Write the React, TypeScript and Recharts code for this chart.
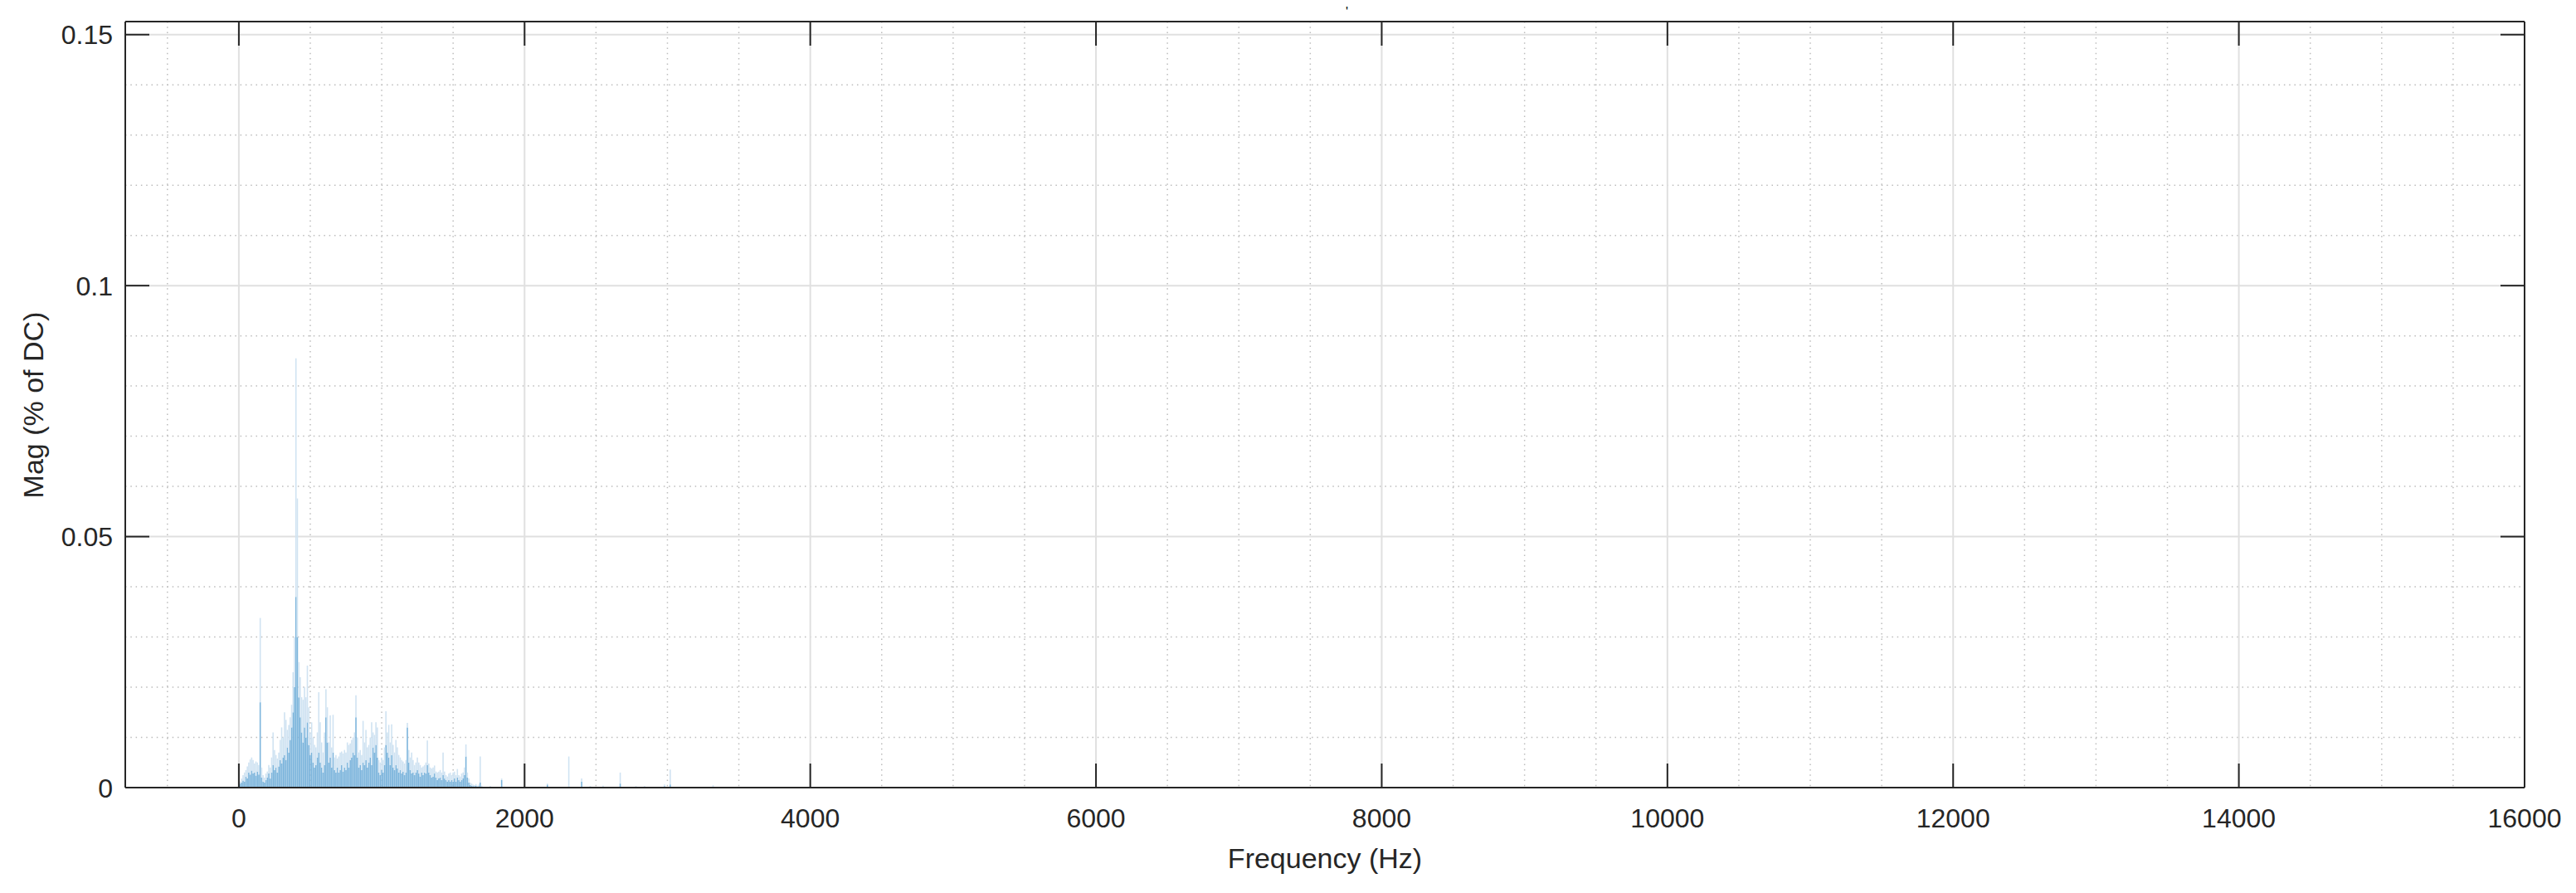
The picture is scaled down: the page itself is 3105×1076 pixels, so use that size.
import React from "react";
import { ComposedChart, Bar, XAxis, YAxis, CartesianGrid } from "recharts";

// spectrum bins, 10 Hz apart from 0 Hz to 1700 Hz
const binStepHz = 10;
// typical (dense) magnitude in each bin
const bodyMag = [
  0.0005, 0.0008, 0.001, 0.0014, 0.0012, 0.0022, 0.0018, 0.003, 0.0026, 0.0034,
  0.0028, 0.003, 0.0024, 0.0032, 0.0026, 0.017, 0.002, 0.0012, 0.001, 0.0015,
  0.002, 0.0028, 0.0018, 0.003, 0.0045, 0.0035, 0.004, 0.003, 0.0042, 0.0055,
  0.0048, 0.006, 0.0065, 0.0055, 0.008, 0.007, 0.0095, 0.012, 0.015, 0.02,
  0.038, 0.03, 0.018, 0.014, 0.011, 0.009, 0.012, 0.01, 0.013, 0.0085,
  0.0065, 0.007, 0.005, 0.004, 0.0045, 0.006, 0.007, 0.005, 0.004, 0.003,
  0.0045, 0.014, 0.009, 0.005, 0.006, 0.004, 0.007, 0.0035, 0.003, 0.004,
  0.003, 0.0035, 0.0045, 0.0032, 0.004, 0.0035, 0.005, 0.004, 0.0055, 0.006,
  0.007, 0.0065, 0.014, 0.006, 0.004, 0.0045, 0.0035, 0.005, 0.0045, 0.0055,
  0.004, 0.005, 0.006, 0.0045, 0.008, 0.007, 0.0085, 0.006, 0.003, 0.0025,
  0.0035, 0.003, 0.0045, 0.0085, 0.007, 0.006, 0.0045, 0.0065, 0.004, 0.0035,
  0.0045, 0.0038, 0.003, 0.0035, 0.0028, 0.0032, 0.0025, 0.003, 0.012, 0.005,
  0.0035, 0.0028, 0.003, 0.0025, 0.003, 0.0035, 0.0028, 0.0022, 0.003, 0.0025,
  0.003, 0.0028, 0.0045, 0.003, 0.0025, 0.002, 0.0022, 0.0028, 0.002, 0.0015,
  0.0018, 0.002, 0.0015, 0.0025, 0.0018, 0.0015, 0.0012, 0.0015, 0.0012, 0.0015,
  0.0012, 0.0018, 0.0012, 0.002, 0.0015, 0.0012, 0.0015, 0.0018, 0.0025, 0.0062,
  0.002, 0.001, 0.0005, 0.0004, 0.0003, 0.0003, 0.0004, 0.0002, 0.0003, 0.001, 0.0002,
];
// highest spike seen in each bin
const peakMag = [
  0.0008, 0.0012, 0.0018, 0.0025, 0.003, 0.0035, 0.0042, 0.005, 0.0056, 0.006,
  0.0055, 0.0048, 0.0052, 0.005, 0.0045, 0.0338, 0.004, 0.0025, 0.002, 0.0028,
  0.0032, 0.0045, 0.004, 0.006, 0.011, 0.0075, 0.0065, 0.0058, 0.007, 0.0095,
  0.012, 0.01, 0.015, 0.0135, 0.0115, 0.0125, 0.014, 0.0165, 0.023, 0.03,
  0.0855, 0.0576, 0.025, 0.022, 0.018, 0.0175, 0.02, 0.018, 0.0243, 0.016,
  0.011, 0.013, 0.01, 0.0085, 0.008, 0.011, 0.019, 0.013, 0.009, 0.007,
  0.011, 0.0196, 0.016, 0.009, 0.0144, 0.008, 0.0145, 0.006, 0.0065, 0.0058,
  0.0062, 0.007, 0.0072, 0.0068, 0.0075, 0.007, 0.009, 0.0085, 0.0088, 0.0095,
  0.01, 0.011, 0.0184, 0.01, 0.007, 0.0075, 0.0065, 0.0133, 0.009, 0.0115,
  0.008, 0.0085, 0.01, 0.013, 0.011, 0.0105, 0.013, 0.012, 0.0055, 0.005,
  0.006, 0.0055, 0.008, 0.0152, 0.011, 0.0125, 0.009, 0.0126, 0.0085, 0.007,
  0.0095, 0.008, 0.0065, 0.006, 0.0055, 0.0052, 0.0048, 0.0055, 0.0129, 0.0075,
  0.006, 0.007, 0.0055, 0.0045, 0.005, 0.006, 0.005, 0.0045, 0.004, 0.0042,
  0.0045, 0.005, 0.0094, 0.0048, 0.004, 0.0038, 0.004, 0.0044, 0.0032, 0.003,
  0.0032, 0.0035, 0.003, 0.007, 0.0032, 0.0025, 0.0022, 0.0028, 0.003, 0.0025,
  0.003, 0.0032, 0.0025, 0.0037, 0.0025, 0.0022, 0.0028, 0.003, 0.004, 0.0086,
  0.003, 0.0018, 0.001, 0.0008, 0.0006, 0.0005, 0.0007, 0.0004, 0.0006, 0.0062, 0.0004,
];
// isolated lines above 1700 Hz
const sparseHz = [1760, 1840, 2160, 2310, 2400, 2460, 2550, 2670, 2780, 2840, 2980, 3020, 3320];
const sparseBody = [0.0002, 0.0015, 0.0006, 0.0002, 0.0012, 0.0002, 0.0002, 0.0008, 0.0002, 0.0002, 0.0003, 0.0006, 0.0002];
const sparsePeak = [0.0003, 0.0018, 0.0008, 0.0062, 0.0018, 0.0003, 0.0004, 0.003, 0.0003, 0.0003, 0.0006, 0.0036, 0.0005];

const xTicks = [0, 2000, 4000, 6000, 8000, 10000, 12000, 14000, 16000];
const yTicks = [0, 0.05, 0.1, 0.15];
const xDomain: [number, number] = [-795, 16000];
const yDomain: [number, number] = [0, 0.1526];

// minor grid (MATLAB minor grid), x every 500 Hz, y every 0.01
const minorX: number[] = [];
for (let v = -500; v < 16000; v += 500) if (v % 2000 !== 0) minorX.push(v);
const minorY: number[] = [];
for (let k = 1; k <= 15; k++) if (k % 5 !== 0) minorY.push(k / 100);

const data = [
  ...bodyMag.map((b, i) => ({ hz: i * binStepHz, body: b, extra: peakMag[i] - b })),
  ...sparseHz.map((hz, i) => ({ hz, body: sparseBody[i], extra: sparsePeak[i] - sparseBody[i] })),
];

const INK = "#262626";
const TICK_LEN = 29;
const FONT = 32;

const BottomTick = (props: any) => {
  const { x, y, payload } = props;
  return (
    <g>
      <line x1={x} x2={x} y1={y} y2={y - TICK_LEN} stroke={INK} strokeWidth={2} />
      <text x={x} y={y + 48} textAnchor="middle" fontSize={FONT} fill={INK}>
        {payload.value}
      </text>
    </g>
  );
};

const TopTick = (props: any) => {
  const { x, y } = props;
  return <line x1={x} x2={x} y1={y} y2={y + TICK_LEN} stroke={INK} strokeWidth={2} />;
};

const LeftTick = (props: any) => {
  const { x, y, payload } = props;
  return (
    <g>
      <line x1={x} x2={x + TICK_LEN} y1={y} y2={y} stroke={INK} strokeWidth={2} />
      <text x={x - 15} y={y} dy="0.36em" textAnchor="end" fontSize={FONT} fill={INK}>
        {payload.value}
      </text>
    </g>
  );
};

const RightTick = (props: any) => {
  const { x, y } = props;
  return <line x1={x} x2={x - TICK_LEN} y1={y} y2={y} stroke={INK} strokeWidth={2} />;
};

const axisLine = { stroke: INK, strokeWidth: 2 };

export default function App() {
  return (
    <div
      style={{
        position: "absolute",
        left: 0,
        top: 0,
        width: 3105,
        height: 1076,
        background: "#fff",
        fontFamily: "'Liberation Sans', Arial, sans-serif",
      }}
    >
      <ComposedChart
        width={3105}
        height={1076}
        data={data}
        margin={{ top: 25, right: 61, bottom: 67, left: 51 }}
        barCategoryGap={0}
        barGap={0}
      >
        <CartesianGrid
          stroke="#bdbdbd"
          strokeWidth={1.5}
          strokeDasharray="1.5 4.8"
          verticalValues={minorX}
          horizontalValues={minorY}
        />
        <CartesianGrid stroke="#e0e0e0" strokeWidth={2} verticalValues={xTicks} horizontalValues={yTicks} />
        <XAxis
          dataKey="hz"
          type="number"
          domain={xDomain}
          allowDataOverflow
          ticks={xTicks}
          interval={0}
          height={60}
          tickSize={0}
          tickMargin={0}
          tickLine={false}
          axisLine={axisLine}
          tick={<BottomTick />}
        />
        <XAxis
          xAxisId="top"
          orientation="top"
          dataKey="hz"
          type="number"
          domain={xDomain}
          allowDataOverflow
          ticks={xTicks}
          interval={0}
          height={1}
          tickSize={0}
          tickMargin={0}
          tickLine={false}
          axisLine={axisLine}
          tick={<TopTick />}
        />
        <YAxis
          type="number"
          domain={yDomain}
          allowDataOverflow
          ticks={yTicks}
          interval={0}
          width={100}
          tickSize={0}
          tickMargin={0}
          tickLine={false}
          axisLine={axisLine}
          tick={<LeftTick />}
        />
        <YAxis
          yAxisId="right"
          orientation="right"
          type="number"
          domain={yDomain}
          allowDataOverflow
          ticks={yTicks}
          interval={0}
          width={1}
          tickSize={0}
          tickMargin={0}
          tickLine={false}
          axisLine={axisLine}
          tick={<RightTick />}
        />
        <Bar dataKey="body" stackId="s" fill="#7db5dc" barSize={1.6} isAnimationActive={false} />
        <Bar dataKey="extra" stackId="s" fill="#d0e3f2" barSize={1.6} isAnimationActive={false} />
      </ComposedChart>
      <svg
        width={3105}
        height={1076}
        style={{ position: "absolute", left: 0, top: 0, pointerEvents: "none" }}
      >
        <text x={1597} y={1034} dy="0.36em" textAnchor="middle" fontSize={34} fill={INK}>
          Frequency (Hz)
        </text>
        <text
          transform="translate(40,488) rotate(-90)"
          dy="0.36em"
          textAnchor="middle"
          fontSize={34}
          fill={INK}
        >
          Mag (% of DC)
        </text>
        <text x={1622} y={20} fontSize={16} fill="#000">
          '
        </text>
      </svg>
    </div>
  );
}
